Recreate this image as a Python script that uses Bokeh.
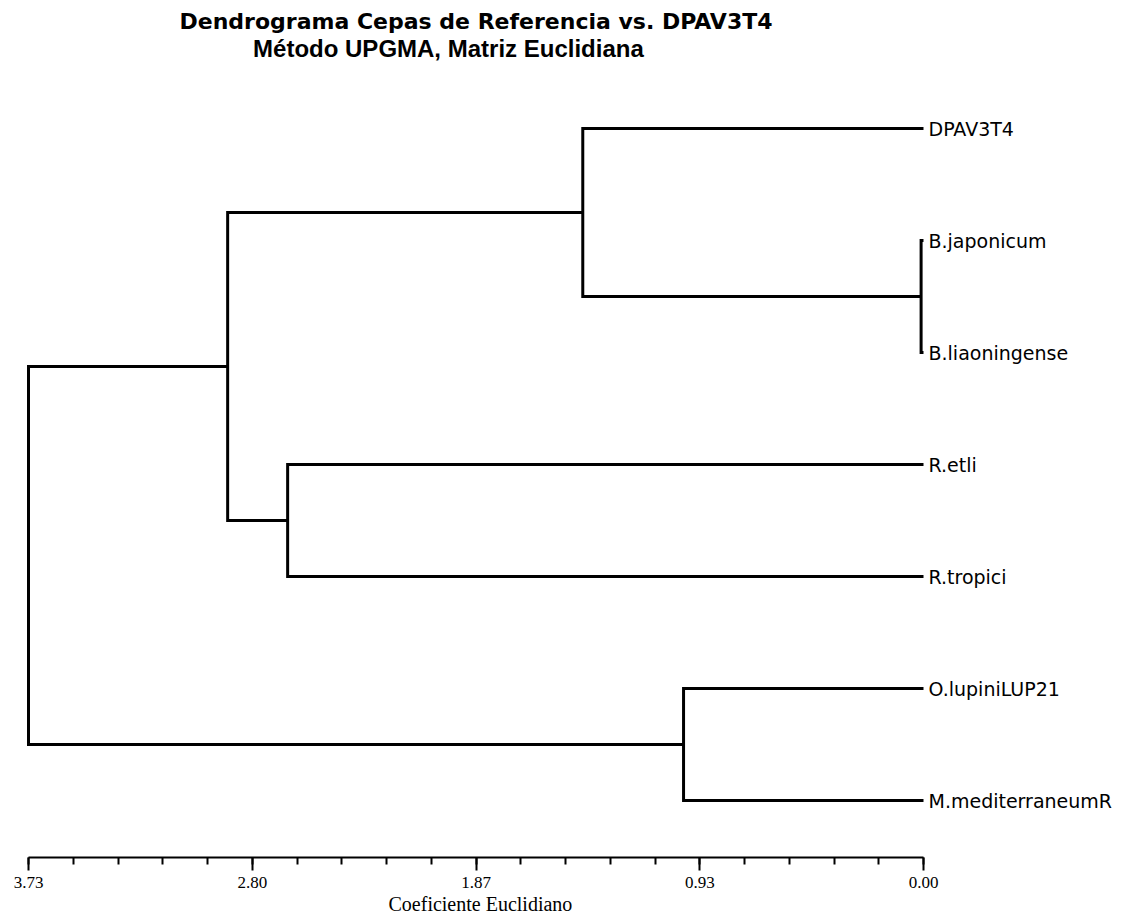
from bokeh.plotting import figure
from bokeh.models import Range1d, LinearAxis, FixedTicker, Label, ColumnDataSource, Title
from bokeh.core.properties import value
from bokeh.embed import file_html
from bokeh.resources import INLINE

# ---- data ----
leaves = ["DPAV3T4", "B.japonicum", "B.liaoningense", "R.etli",
          "R.tropici", "O.lupiniLUP21", "M.mediterraneumR"]
# UPGMA linkage: node ids 0..6 are leaves, 7.. are merges in this order
merge_left = [1, 0, 3, 5, 8, 11]
merge_right = [2, 7, 4, 6, 9, 10]
merge_height = [0.01, 1.42, 2.65, 1.00, 2.90, 3.73]

max_dist = 3.73
major_ticks = [0.0, 0.9325, 1.865, 2.7975, 3.73]
tick_labels = ["0.00", "0.93", "1.87", "2.80", "3.73"]
minor_ticks = [i * 0.1865 for i in range(21)]

title_text = "Dendrograma Cepas de Referencia vs. DPAV3T4"
subtitle_text = "Método UPGMA, Matriz Euclidiana"
axis_title = "Coeficiente Euclidiano"

# ---- build tree geometry from linkage ----
node_y = list(range(len(leaves)))
node_h = [0.0] * len(leaves)
xs, ys = [], []
for l, r, h in zip(merge_left, merge_right, merge_height):
    yl, yr = node_y[l], node_y[r]
    xs.append([node_h[l], h, h, node_h[r]])
    ys.append([yl, yl, yr, yr])
    node_y.append((yl + yr) / 2.0)
    node_h.append(h)

# pixel layout: 28px -> 3.73, 923px -> 0.00 ; leaves at 128 + 112*i px
ppu = 895.0 / max_dist
x_left = max_dist + 28.0 / ppu
x_right = -(1126.0 - 923.0) / ppu
frame_h = 857.0
y_bottom = (frame_h - 128.0) / 112.0
y_top = -128.0 / 112.0


def row(px):
    return (px - 128.0) / 112.0


p = figure(width=1126, height=918, output_backend="svg", toolbar_location=None,
           x_range=Range1d(x_left, x_right), y_range=Range1d(y_bottom, y_top),
           x_axis_type=None, y_axis_type=None,
           min_border_left=0, min_border_right=0, min_border_top=0,
           min_border_bottom=int(918 - frame_h))
p.outline_line_color = None
p.background_fill_color = "white"
p.border_fill_color = "white"

p.multi_line(xs=xs, ys=ys, line_color="black", line_width=3, line_join="miter")

src = ColumnDataSource(dict(x=[0.0] * len(leaves), y=list(range(len(leaves))), t=leaves))
p.text(x="x", y="y", text="t", source=src, x_offset=5, text_baseline="middle",
       text_align="left", text_font=value("DejaVu Sans"), text_font_size="19px",
       text_color="black")

ax = LinearAxis(ticker=FixedTicker(ticks=major_ticks, minor_ticks=minor_ticks),
                bounds=(0, max_dist),
                major_label_overrides={t: s for t, s in zip(major_ticks, tick_labels)})
ax.axis_line_width = 2
ax.axis_line_color = "black"
ax.major_tick_line_width = 2
ax.minor_tick_line_width = 2
ax.major_tick_out = 13
ax.major_tick_in = 0
ax.minor_tick_out = 7
ax.minor_tick_in = 0
ax.major_label_standoff = 6
ax.major_label_text_font = "Liberation Serif"
ax.major_label_text_font_size = "17px"
ax.major_label_text_color = "black"
p.add_layout(ax, "below")

p.add_layout(Title(text=axis_title, align="left", offset=388, standoff=0,
                   text_font="Liberation Serif", text_font_size="20px",
                   text_font_style="normal", text_color="black"), "below")

p.add_layout(Label(x=max_dist / 2, y=row(21), text=title_text,
                   text_align="center", text_baseline="middle",
                   text_font="DejaVu Sans", text_font_style="bold",
                   text_font_size="22px", text_color="black"))
p.add_layout(Label(x=1.98, y=row(48), text=subtitle_text,
                   text_align="center", text_baseline="middle",
                   text_font="Liberation Sans", text_font_style="bold",
                   text_font_size="24px", text_color="black"))

open("out.html", "w").write(file_html(p, INLINE))
